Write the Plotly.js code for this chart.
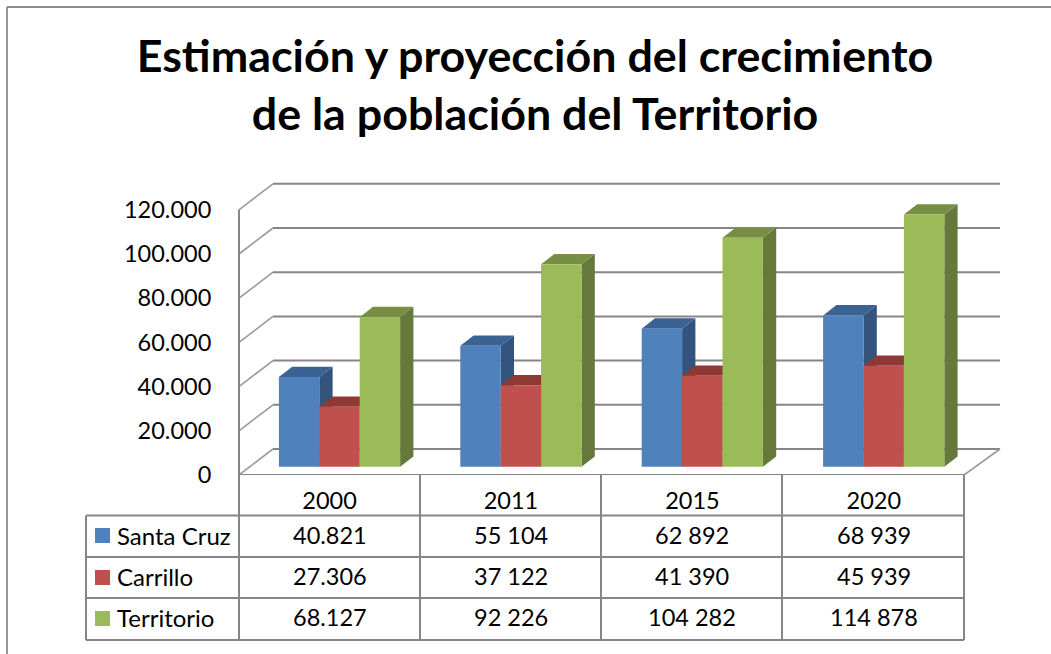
<!DOCTYPE html>
<html>
<head>
<meta charset="utf-8">
<script src="https://cdn.plot.ly/plotly-3.0.1.min.js"></script>
<style>html,body{margin:0;padding:0;background:#fff}</style>
</head>
<body>
<div id="chart" style="width:1051px;height:654px"></div>
<script>
const titleLines = ['Estimación y proyección del crecimiento', 'de la población del Territorio'];
const years = ['2000', '2011', '2015', '2020'];
const seriesNames = ['Santa Cruz', 'Carrillo', 'Territorio'];
const santaCruz = [40821, 55104, 62892, 68939];
const carrillo = [27306, 37122, 41390, 45939];
const territorio = [68127, 92226, 104282, 114878];
const santaCruzLabels = ['40.821', '55 104', '62 892', '68 939'];
const carrilloLabels = ['27.306', '37 122', '41 390', '45 939'];
const territorioLabels = ['68.127', '92 226', '104 282', '114 878'];
const yTicks = [0, 20000, 40000, 60000, 80000, 100000, 120000];
const frontColors = ['#4F81BD', '#C0504D', '#9BBB59'];
const topColors = ['#3A6394', '#8F3937', '#778F45'];
const sideColors = ['#32547D', '#7F302E', '#657A3A'];

const W = 1051, H = 654;
const L = 237, R = 1002, T = 178, B = 475;
const pw = R - L, ph = B - T;
const FONT = 'Lato, Carlito, Calibri, sans-serif';
const GRID = '#868686';
const pxPerUnit = 2.21 / 1000;
const barPxPerUnit = 2.195 / 1000;
const catW = 181.4;
const px = p => (p - L) / pw;
const py = p => (B - p) / ph;

const barBase = 466.7, barCentre = 339.5, colCentre = 329.6;
const yRange = [(barBase - B) / barPxPerUnit, (barBase - T) / barPxPerUnit];
const y2Range = [0, (B - T) / pxPerUnit];
const xRange = [(L - barCentre) / catW, (R - barCentre) / catW];
const x2Range = [(L - colCentre) / catW, (R - colCentre) / catW];
const barW = 40.4 / catW, depthX = 13.3 / catW, depthY = 10.3 / barPxPerUnit;
const backY = 26 / pxPerUnit;

const rows = [santaCruz, carrillo, territorio];
const rowLabels = [santaCruzLabels, carrilloLabels, territorioLabels];
const cats = years.map((_, i) => i);

const traces = rows.map((vals, s) => ({
  type: 'bar', name: seriesNames[s], x: cats, y: vals, xaxis: 'x', yaxis: 'y',
  marker: {color: frontColors[s], line: {width: 0}}, hoverinfo: 'skip'
}));
traces.push({
  type: 'scatter', mode: 'lines', x: cats, y: territorio, xaxis: 'x2', yaxis: 'y2',
  line: {width: 0, color: 'rgba(0,0,0,0)'}, hoverinfo: 'skip', showlegend: false
});

const shapes = [];
const line = (x0, y0, x1, y1, w, c, xref, yref) => shapes.push({
  type: 'line', xref: xref || 'paper', yref: yref || 'paper', x0, y0, x1, y1,
  layer: 'below', line: {color: c || GRID, width: w || 1.8}
});

// back wall and side wall
yTicks.forEach(v => {
  line(px(273), v + backY, px(1000), v + backY, 2, GRID, 'paper', 'y2');
  line(px(239), v, px(273), v + backY, 1.6, '#9a9a9a', 'paper', 'y2');
});
// front left edge and floor
line(px(239), 0, px(239), 120000, 2, GRID, 'paper', 'y2');
line(px(239), 0, px(964), 0, 2.2, GRID, 'paper', 'y2');
line(px(964), 0, px(1000), backY, 1.6, '#9a9a9a', 'paper', 'y2');

// bar side and top faces
const poly = (pts, color) => shapes.push({
  type: 'path', xref: 'x', yref: 'y', layer: 'below',
  path: 'M' + pts.map(p => p[0] + ',' + p[1]).join(' L') + ' Z',
  fillcolor: color, line: {width: 0}
});
cats.forEach(c => {
  rows.forEach((vals, s) => {
    const x0 = c + (s - 1.5) * barW, x1 = x0 + barW, v = vals[c];
    poly([[x1, 0], [x1 + depthX, depthY], [x1 + depthX, v + depthY], [x1, v]], sideColors[s]);
    poly([[x0, v], [x1, v], [x1 + depthX, v + depthY], [x0 + depthX, v + depthY]], topColors[s]);
  });
});

// data table
const colEdges = [239, 420, 601, 782, 964];
const rowEdges = [515.5, 557, 598, 640];
colEdges.forEach(x => line(px(x), py(B), px(x), py(640), 2));
line(px(86), py(515.5), px(86), py(640), 2);
rowEdges.forEach(y => line(px(86), py(y), px(964), py(y), 2));
const rowCentres = [535, 576, 617];
const keyTops = [528, 570, 611];
keyTops.forEach((y, s) => shapes.push({
  type: 'rect', xref: 'paper', yref: 'paper', layer: 'below',
  x0: px(95), x1: px(110), y0: py(y), y1: py(y + 15),
  fillcolor: frontColors[s], line: {width: 0}
}));

// page frame
line(px(7), py(7), px(7), py(654), 1.8, '#8c8c8c');
line(px(7), py(7), px(1051), py(7), 1.8, '#8c8c8c');

const annotations = [];
seriesNames.forEach((n, s) => {
  annotations.push({xref: 'paper', yref: 'paper', x: px(115), y: py(rowCentres[s]), text: n,
    showarrow: false, xanchor: 'left', yanchor: 'middle', font: {family: FONT, size: 24, color: '#000'}});
  rowLabels[s].forEach((t, c) => annotations.push({
    xref: 'x2', yref: 'paper', x: c, y: py(rowCentres[s]), text: t,
    showarrow: false, xanchor: 'center', yanchor: 'middle', font: {family: FONT, size: 23.5, color: '#000'}
  }));
});

const layout = {
  width: W, height: H, autosize: false,
  paper_bgcolor: '#fff', plot_bgcolor: 'rgba(0,0,0,0)',
  margin: {l: L, r: W - R, t: T, b: H - B, pad: 0},
  separators: ',.',
  showlegend: false,
  barmode: 'group', bargap: 1 - 3 * barW, bargroupgap: 0,
  title: {
    text: titleLines.join('<br>'), x: 535 / W, xanchor: 'center', xref: 'container',
    y: 1 - 72 / H, yanchor: 'top', yref: 'container', automargin: false,
    font: {family: FONT, size: 44.8, color: '#000', weight: 700}
  },
  xaxis: {type: 'linear', range: xRange, showgrid: false, zeroline: false, showline: false, showticklabels: false, ticks: '', fixedrange: true},
  yaxis: {range: yRange, showgrid: false, zeroline: false, showline: false, showticklabels: false, ticks: '', fixedrange: true},
  xaxis2: {
    type: 'linear', range: x2Range, overlaying: 'x', anchor: 'y2', side: 'bottom',
    tickmode: 'array', tickvals: cats, ticktext: years,
    ticks: 'outside', ticklen: 5, tickcolor: 'rgba(0,0,0,0)',
    tickfont: {family: FONT, size: 23.5, color: '#000'},
    showgrid: false, zeroline: false, showline: false, fixedrange: true
  },
  yaxis2: {
    range: y2Range, overlaying: 'y', anchor: 'x2', side: 'left',
    tickmode: 'array', tickvals: yTicks, tickformat: ',d',
    ticks: 'outside', ticklen: 20, tickcolor: 'rgba(0,0,0,0)',
    tickfont: {family: FONT, size: 23.5, color: '#000'},
    showgrid: false, zeroline: false, showline: false, fixedrange: true
  },
  shapes, annotations
};

Plotly.newPlot('chart', traces, layout, {displayModeBar: false, staticPlot: true});
</script>
</body>
</html>
